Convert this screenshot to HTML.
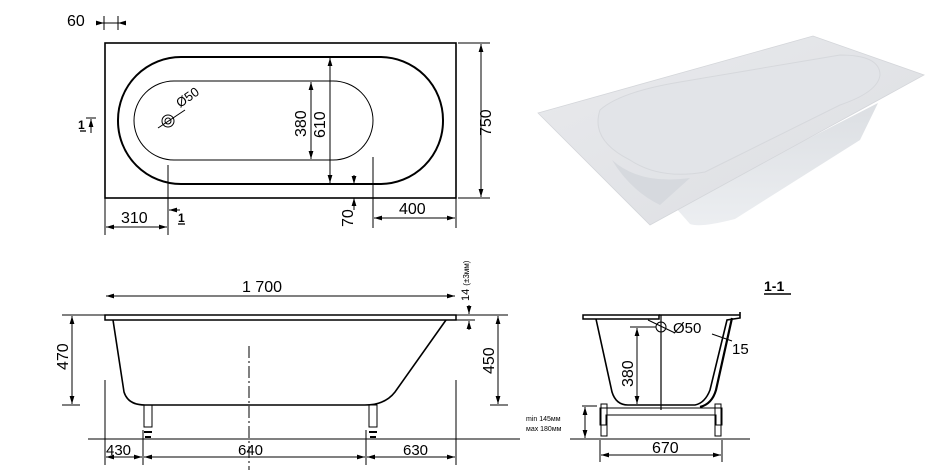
<!DOCTYPE html>
<html><head><meta charset="utf-8"><style>
html,body{margin:0;padding:0;background:#fff;}
svg{display:block;font-family:"Liberation Sans",sans-serif;}
</style></head><body>
<svg width="942" height="473" viewBox="0 0 942 473" xmlns="http://www.w3.org/2000/svg">
<defs>
<marker id="a" viewBox="0 0 10 6" refX="10" refY="3" markerWidth="8" markerHeight="5" orient="auto-start-reverse"><path d="M0,0L10,3L0,6z" fill="#000"/></marker>
<linearGradient id="g1" x1="0" y1="0" x2="1" y2="1"><stop offset="0" stop-color="#e9eaed"/><stop offset="1" stop-color="#dcdee2"/></linearGradient>
<linearGradient id="g2" x1="0" y1="0" x2="0" y2="1"><stop offset="0" stop-color="#dcdfe3"/><stop offset="1" stop-color="#eceef1"/></linearGradient>
</defs>
<g fill="none" stroke="#000" stroke-width="1">
<rect x="105" y="43" width="351" height="155" stroke-width="1.6"/>
<rect x="118" y="57" width="325" height="127" rx="63" stroke-width="2"/>
<rect x="134" y="81" width="239" height="79" rx="40"/>
<circle cx="168" cy="121" r="6"/><circle cx="168" cy="121" r="3"/>
<line x1="158" y1="128" x2="185" y2="110"/>
<line x1="311" y1="82" x2="311" y2="159" marker-start="url(#a)" marker-end="url(#a)"/>
<line x1="330" y1="58" x2="330" y2="183" marker-start="url(#a)" marker-end="url(#a)"/>
<line x1="481" y1="44" x2="481" y2="197" marker-start="url(#a)" marker-end="url(#a)"/>
<line x1="458" y1="43" x2="490" y2="43"/><line x1="458" y1="198" x2="490" y2="198"/>
<line x1="96" y1="23" x2="104" y2="23" marker-end="url(#a)"/><line x1="126" y1="23" x2="118" y2="23" marker-end="url(#a)"/><line x1="104" y1="23" x2="118" y2="23"/>
<line x1="104" y1="16" x2="104" y2="30"/><line x1="118" y1="16" x2="118" y2="30"/>
<line x1="105" y1="198" x2="105" y2="235"/><line x1="168" y1="165" x2="168" y2="235"/>
<line x1="106" y1="227" x2="167" y2="227" marker-start="url(#a)" marker-end="url(#a)"/>
<line x1="180" y1="210" x2="169" y2="210" marker-end="url(#a)"/>
<line x1="373" y1="157" x2="373" y2="228"/><line x1="456" y1="198" x2="456" y2="228"/>
<line x1="374" y1="218" x2="455" y2="218" marker-start="url(#a)" marker-end="url(#a)"/>
<line x1="354" y1="175" x2="354" y2="184" marker-end="url(#a)" /><line x1="354" y1="210" x2="354" y2="198" marker-end="url(#a)"/>
<line x1="91" y1="133" x2="91" y2="119" marker-end="url(#a)"/><line x1="86" y1="118" x2="96" y2="118"/>
<rect x="105" y="315" width="351" height="5" stroke-width="1.5"/>
<path d="M113,320 L124,392 Q128,405 145,405 L365,405 Q385,405 395,392 L446,320" stroke-width="1.6"/>
<rect x="144" y="405" width="8" height="22"/><rect x="369" y="405" width="8" height="22"/>
<path d="M144,432 L152,432 M145,437 L151,437" stroke-width="2"/><path d="M369,432 L377,432 M370,437 L376,437" stroke-width="2"/>
<line x1="88" y1="439" x2="520" y2="439"/>
<line x1="249" y1="346" x2="249" y2="470" stroke-dasharray="12,3,2,3"/>
<line x1="106" y1="296" x2="455" y2="296" marker-start="url(#a)" marker-end="url(#a)"/>
<line x1="72" y1="316" x2="72" y2="404" marker-start="url(#a)" marker-end="url(#a)"/>
<line x1="62" y1="315" x2="105" y2="315"/><line x1="62" y1="405" x2="80" y2="405"/>
<line x1="498" y1="316" x2="498" y2="404" marker-start="url(#a)" marker-end="url(#a)"/>
<line x1="456" y1="315" x2="508" y2="315"/><line x1="490" y1="405" x2="508" y2="405"/>
<line x1="469" y1="305" x2="469" y2="314" marker-end="url(#a)"/><line x1="469" y1="330" x2="469" y2="321" marker-end="url(#a)"/><line x1="456" y1="320" x2="475" y2="320"/>
<line x1="105" y1="380" x2="105" y2="465"/><line x1="456" y1="380" x2="456" y2="465"/>
<line x1="143" y1="430" x2="143" y2="465"/><line x1="366" y1="430" x2="366" y2="465"/>
<line x1="106" y1="457" x2="142" y2="457" marker-start="url(#a)" marker-end="url(#a)"/>
<line x1="144" y1="457" x2="365" y2="457" marker-start="url(#a)" marker-end="url(#a)"/>
<line x1="367" y1="457" x2="455" y2="457" marker-start="url(#a)" marker-end="url(#a)"/>
<rect x="583" y="315" width="76" height="4" stroke-width="1.5"/>
<line x1="659" y1="315" x2="740" y2="315" stroke-width="1.5"/>
<path d="M596,319 L612,392 Q616,405 628,405 L695,405 Q705,403 710,390 L727,320 L740,318 L740,312" stroke-width="1.6"/>
<path d="M732,318 L716,390 Q712,404 700,407" stroke-width="2.2"/>
<line x1="661" y1="315" x2="661" y2="410" stroke-width="1.2"/>
<circle cx="661" cy="327" r="5"/>
<line x1="648" y1="320" x2="675" y2="333"/>
<line x1="637" y1="328" x2="637" y2="404" marker-start="url(#a)" marker-end="url(#a)"/>
<line x1="630" y1="327" x2="656" y2="327"/>
<line x1="712" y1="334" x2="732" y2="341"/>
<path d="M600,408 L722,408 L722,425 L716,425 L716,415 L606,415 L606,425 L600,425 Z"/>
<rect x="601" y="404" width="6" height="32"/><rect x="715" y="404" width="6" height="32"/>
<line x1="570" y1="439" x2="750" y2="439"/>
<line x1="582" y1="406" x2="597" y2="406"/>
<line x1="585" y1="407" x2="585" y2="438" marker-start="url(#a)" marker-end="url(#a)"/>
<line x1="600" y1="440" x2="600" y2="462"/><line x1="722" y1="440" x2="722" y2="462"/>
<line x1="601" y1="455" x2="721" y2="455" marker-start="url(#a)" marker-end="url(#a)"/>
<line x1="764" y1="294" x2="791" y2="294" stroke-width="1.5"/>
<line x1="80" y1="131" x2="86" y2="131" stroke-width="1.3"/>
<line x1="178" y1="224" x2="185" y2="224" stroke-width="1.3"/>
</g>
<path d="M675,207 L690,224 Q700,228 735,219 L860,140 L878,103 Z" fill="url(#g2)"/>
<path d="M538,113 L813,36 L924,75 L650,225 Z" fill="url(#g1)" stroke="#d4d6da" stroke-width="0.8"/>
<path d="M600,110 Q620,92 680,82 L840,55 Q880,55 880,75 Q878,92 840,105 L705,172 Q660,180 630,160 Q590,140 600,110 Z" fill="#e2e4e8" stroke="#d6d8dc"/>
<path d="M612,160 Q640,185 690,178 L660,205 Q630,190 612,160 Z" fill="#d6d9de"/>
<g font-size="16" fill="#000">
<text x="67" y="26">60</text>
<text x="121" y="223">310</text>
<text x="399" y="214">400</text>
<text transform="translate(306,137) rotate(-90)">380</text>
<text transform="translate(325,138) rotate(-90)">610</text>
<text transform="translate(491,136) rotate(-90)">750</text>
<text transform="translate(353,227) rotate(-90)">70</text>
<text transform="translate(180,108) rotate(-35)" font-size="13">Ø50</text>
<text x="178" y="222" font-size="12" font-weight="bold">1</text>
<text x="78" y="129" font-size="12" font-weight="bold">1</text>
<text x="242" y="292">1 700</text>
<text transform="translate(68,370) rotate(-90)">470</text>
<text transform="translate(494,374) rotate(-90)">450</text>
<text transform="translate(469,301) rotate(-90)" font-size="11">14 <tspan font-size="8">(±3мм)</tspan></text>
<text x="106" y="455" font-size="15">430</text>
<text x="238" y="455" font-size="15">640</text>
<text x="403" y="455" font-size="15">630</text>
<text transform="translate(633,387) rotate(-90)">380</text>
<text x="673" y="333" font-size="15">Ø50</text>
<text x="732" y="354" font-size="15">15</text>
<text x="764" y="291" font-weight="bold" font-size="14">1-1</text>
<text x="652" y="453">670</text>
<text x="526" y="421" font-size="7">min 145мм</text>
<text x="526" y="431" font-size="7">мах 180мм</text>
</g>
</svg>
</body></html>
